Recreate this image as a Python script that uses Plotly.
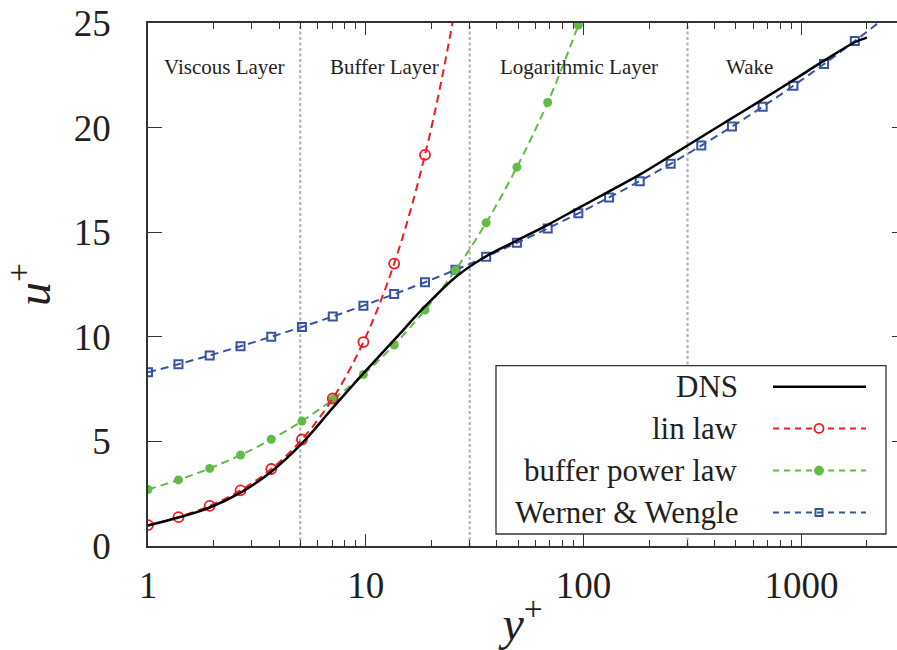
import math
import plotly.graph_objects as go

# ---------------- data ----------------
dns_y = [1, 1.38, 1.92, 2.66, 3.68, 5.09, 7.05, 9.75, 13.5, 18.7, 25.8, 35.7, 49.4,
         68.4, 94.6, 131, 181, 251, 347, 480, 664, 919, 1271, 1759, 2000]
dns_u = [0.98, 1.36, 1.84, 2.55, 3.55, 4.9, 6.6, 8.25, 9.85, 11.45, 12.85, 13.85, 14.6,
         15.35, 16.15, 16.95, 17.75, 18.65, 19.55, 20.45, 21.35, 22.27, 23.2,
         24.08, 24.3]

lin_y = [1, 1.38, 1.92, 2.66, 3.68, 5.09, 7.05, 9.75, 13.5, 18.7, 25.8, 35.7]
lin_u = [1, 1.38, 1.92, 2.66, 3.68, 5.09, 7.05, 9.75, 13.5, 18.7, 25.8, 35.7]

buf_y = [1, 1.38, 1.92, 2.66, 3.68, 5.09, 7.05, 9.75, 13.5, 18.7, 25.8, 35.7, 49.4,
         68.4, 94.6, 131]
buf_u = [2.70, 3.16, 3.71, 4.35, 5.10, 5.97, 7.00, 8.20, 9.61, 11.28, 13.19, 15.45,
         18.11, 21.2, 24.9, 29.1]

ww_y = [1, 1.38, 1.92, 2.66, 3.68, 5.09, 7.05, 9.75, 13.5, 18.7, 25.8, 35.7, 49.4,
        68.4, 94.6, 131, 181, 251, 347, 480, 664, 919, 1271, 1759, 2434, 3369]
ww_u = [8.30, 8.69, 9.11, 9.55, 10.00, 10.47, 10.97, 11.49, 12.04, 12.61, 13.20, 13.83,
        14.49, 15.18, 15.90, 16.66, 17.44, 18.27, 19.14, 20.05, 21.00, 22.00, 23.04,
        24.14, 25.28, 26.5]

boundaries = [5, 30, 300]
region_labels = ["Viscous Layer", "Buffer Layer", "Logarithmic Layer", "Wake"]
region_pos = [2.24, 12.2, 95, 580]
legend_names = ["DNS", "lin law", "buffer power law", "Werner &amp; Wengle"]

x_major = [1, 10, 100, 1000]
x_major_text = ["1", "10", "100", "1000"]
x_minor = [2, 3, 4, 5, 6, 7, 8, 9, 20, 30, 40, 50, 60, 70, 80, 90,
           200, 300, 400, 500, 600, 700, 800, 900, 2000, 3000]
y_ticks = [0, 5, 10, 15, 20, 25]

# ---------------- style ----------------
RED = "#ec1c24"
GREEN = "#62bb46"
BLUE = "#3953a4"
GRAY = "#b4b4b4"
TXT = "#231f20"
AX = "#333333"
SERIF = "Liberation Serif, 'Times New Roman', Times, serif"

W, H = 897, 650
ML, MR, MT, MB = 148, 0, 23, 104
PW, PH = W - ML - MR, H - MT - MB


def px2x(px):
    return (px - ML) / PW


def py2y(py):
    return (H - MB - py) / PH


fig = go.Figure()

# region boundaries
bx, by = [], []
for b in boundaries:
    bx += [b, b, None]
    by += [0, 25, None]
fig.add_trace(go.Scatter(x=bx, y=by, mode="lines",
                         line=dict(color=GRAY, width=2.2, dash="3px,2.5px"),
                         hoverinfo="skip", showlegend=False))

fig.add_trace(go.Scatter(x=ww_y, y=ww_u, mode="lines+markers", name="Werner & Wengle",
                         line=dict(color=BLUE, width=2, dash="8px,5px", shape="spline"),
                         marker=dict(symbol="square-open", size=8, color=BLUE,
                                     line=dict(width=2, color=BLUE)),
                         showlegend=False))
fig.add_trace(go.Scatter(x=buf_y, y=buf_u, mode="lines+markers", name="buffer power law",
                         line=dict(color=GREEN, width=2, dash="8px,5px", shape="spline"),
                         marker=dict(symbol="circle", size=9, color=GREEN),
                         showlegend=False))
fig.add_trace(go.Scatter(x=lin_y, y=lin_u, mode="lines+markers", name="lin law",
                         line=dict(color=RED, width=2, dash="8px,5px", shape="spline"),
                         marker=dict(symbol="circle-open", size=10, color=RED,
                                     line=dict(width=1.8, color=RED)),
                         showlegend=False))
fig.add_trace(go.Scatter(x=dns_y, y=dns_u, mode="lines", name="DNS",
                         line=dict(color="black", width=2.5, shape="spline",
                                   smoothing=1.0),
                         showlegend=False))
# helper trace for the right-hand tick axis
fig.add_trace(go.Scatter(x=[None], y=[None], yaxis="y2", showlegend=False,
                         hoverinfo="skip"))

shapes = []
annotations = []

# region labels
for lab, xp in zip(region_labels, region_pos):
    annotations.append(dict(x=math.log10(xp), y=22.9, xref="x", yref="y",
                            text=lab, showarrow=False, xanchor="center",
                            yanchor="middle",
                            font=dict(family=SERIF, size=21, color=TXT)))

# manual legend (text right-aligned, symbol on the right)
shapes.append(dict(type="rect", xref="paper", yref="paper", layer="above",
                   x0=px2x(496), x1=px2x(886), y0=py2y(534), y1=py2y(365.7),
                   line=dict(color=AX, width=1.3), fillcolor="white"))
rows = [386.7, 428.4, 470.6, 512.6]
styles = [("black", None, 2.5), (RED, "6px,5px", 2), (GREEN, "6px,5px", 2),
          (BLUE, "6px,5px", 2)]
for name, ry, (col, dash, lw) in zip(legend_names, rows, styles):
    annotations.append(dict(x=px2x(739.5), y=py2y(ry), xref="paper", yref="paper",
                            text=name, showarrow=False, xanchor="right",
                            yanchor="middle",
                            font=dict(family=SERIF, size=31, color=TXT)))
    ln = dict(color=col, width=lw)
    if dash:
        ln["dash"] = dash
    shapes.append(dict(type="line", xref="paper", yref="paper", layer="above",
                       x0=px2x(773), x1=px2x(866), y0=py2y(ry), y1=py2y(ry), line=ln))
# legend markers
cx = 819
shapes.append(dict(type="circle", xref="paper", yref="paper", layer="above",
                   x0=px2x(cx - 4.5), x1=px2x(cx + 4.5), y0=py2y(rows[1] + 4.5),
                   y1=py2y(rows[1] - 4.5), line=dict(color=RED, width=1.8),
                   fillcolor="white"))
shapes.append(dict(type="circle", xref="paper", yref="paper", layer="above",
                   x0=px2x(cx - 4.5), x1=px2x(cx + 4.5), y0=py2y(rows[2] + 4.5),
                   y1=py2y(rows[2] - 4.5), line=dict(color=GREEN, width=1),
                   fillcolor=GREEN))
shapes.append(dict(type="rect", xref="paper", yref="paper", layer="above",
                   x0=px2x(cx - 3.5), x1=px2x(cx + 3.5), y0=py2y(rows[3] + 3.5),
                   y1=py2y(rows[3] - 3.5), line=dict(color=BLUE, width=2),
                   fillcolor="rgba(0,0,0,0)"))

tickfont = dict(family=SERIF, size=37, color=TXT)
fig.update_layout(
    width=W, height=H, autosize=False,
    margin=dict(l=ML, r=MR, t=MT, b=MB, pad=0),
    paper_bgcolor="white", plot_bgcolor="white",
    showlegend=False,
    shapes=shapes, annotations=annotations,
    xaxis=dict(type="log", range=[0, 3.439],
               tickmode="array", tickvals=x_major, ticktext=x_major_text,
               ticks="inside", ticklen=12, tickwidth=1.3, tickcolor=AX,
               minor=dict(tickmode="array", tickvals=x_minor, ticks="inside",
                          ticklen=6, tickwidth=1.3, tickcolor=AX, showgrid=False),
               showline=True, linecolor=AX, linewidth=1.5, mirror="ticks",
               showgrid=False, zeroline=False, tickfont=tickfont,
               ticklabelstandoff=6,
               title=dict(text="<i>y</i><sup>+</sup>", standoff=4,
                          font=dict(family=SERIF, size=48, color=TXT))),
    yaxis=dict(range=[0, 25], tickmode="array", tickvals=y_ticks,
               ticks="inside", ticklen=14, tickwidth=1.3, tickcolor=AX,
               showline=True, linecolor=AX, linewidth=1.5, mirror=False,
               showgrid=False, zeroline=False, tickfont=tickfont,
               ticklabelstandoff=28,
               title=dict(text="<i>u</i><sup>+</sup>", standoff=18,
                          font=dict(family=SERIF, size=48, color=TXT))),
    yaxis2=dict(range=[0, 25], overlaying="y", side="right", anchor="x",
                tickmode="array", tickvals=y_ticks, ticks="inside", ticklen=5,
                tickwidth=1.3, tickcolor=AX, showticklabels=False,
                showline=False, showgrid=False, zeroline=False),
)

fig.write_html("out.html")
